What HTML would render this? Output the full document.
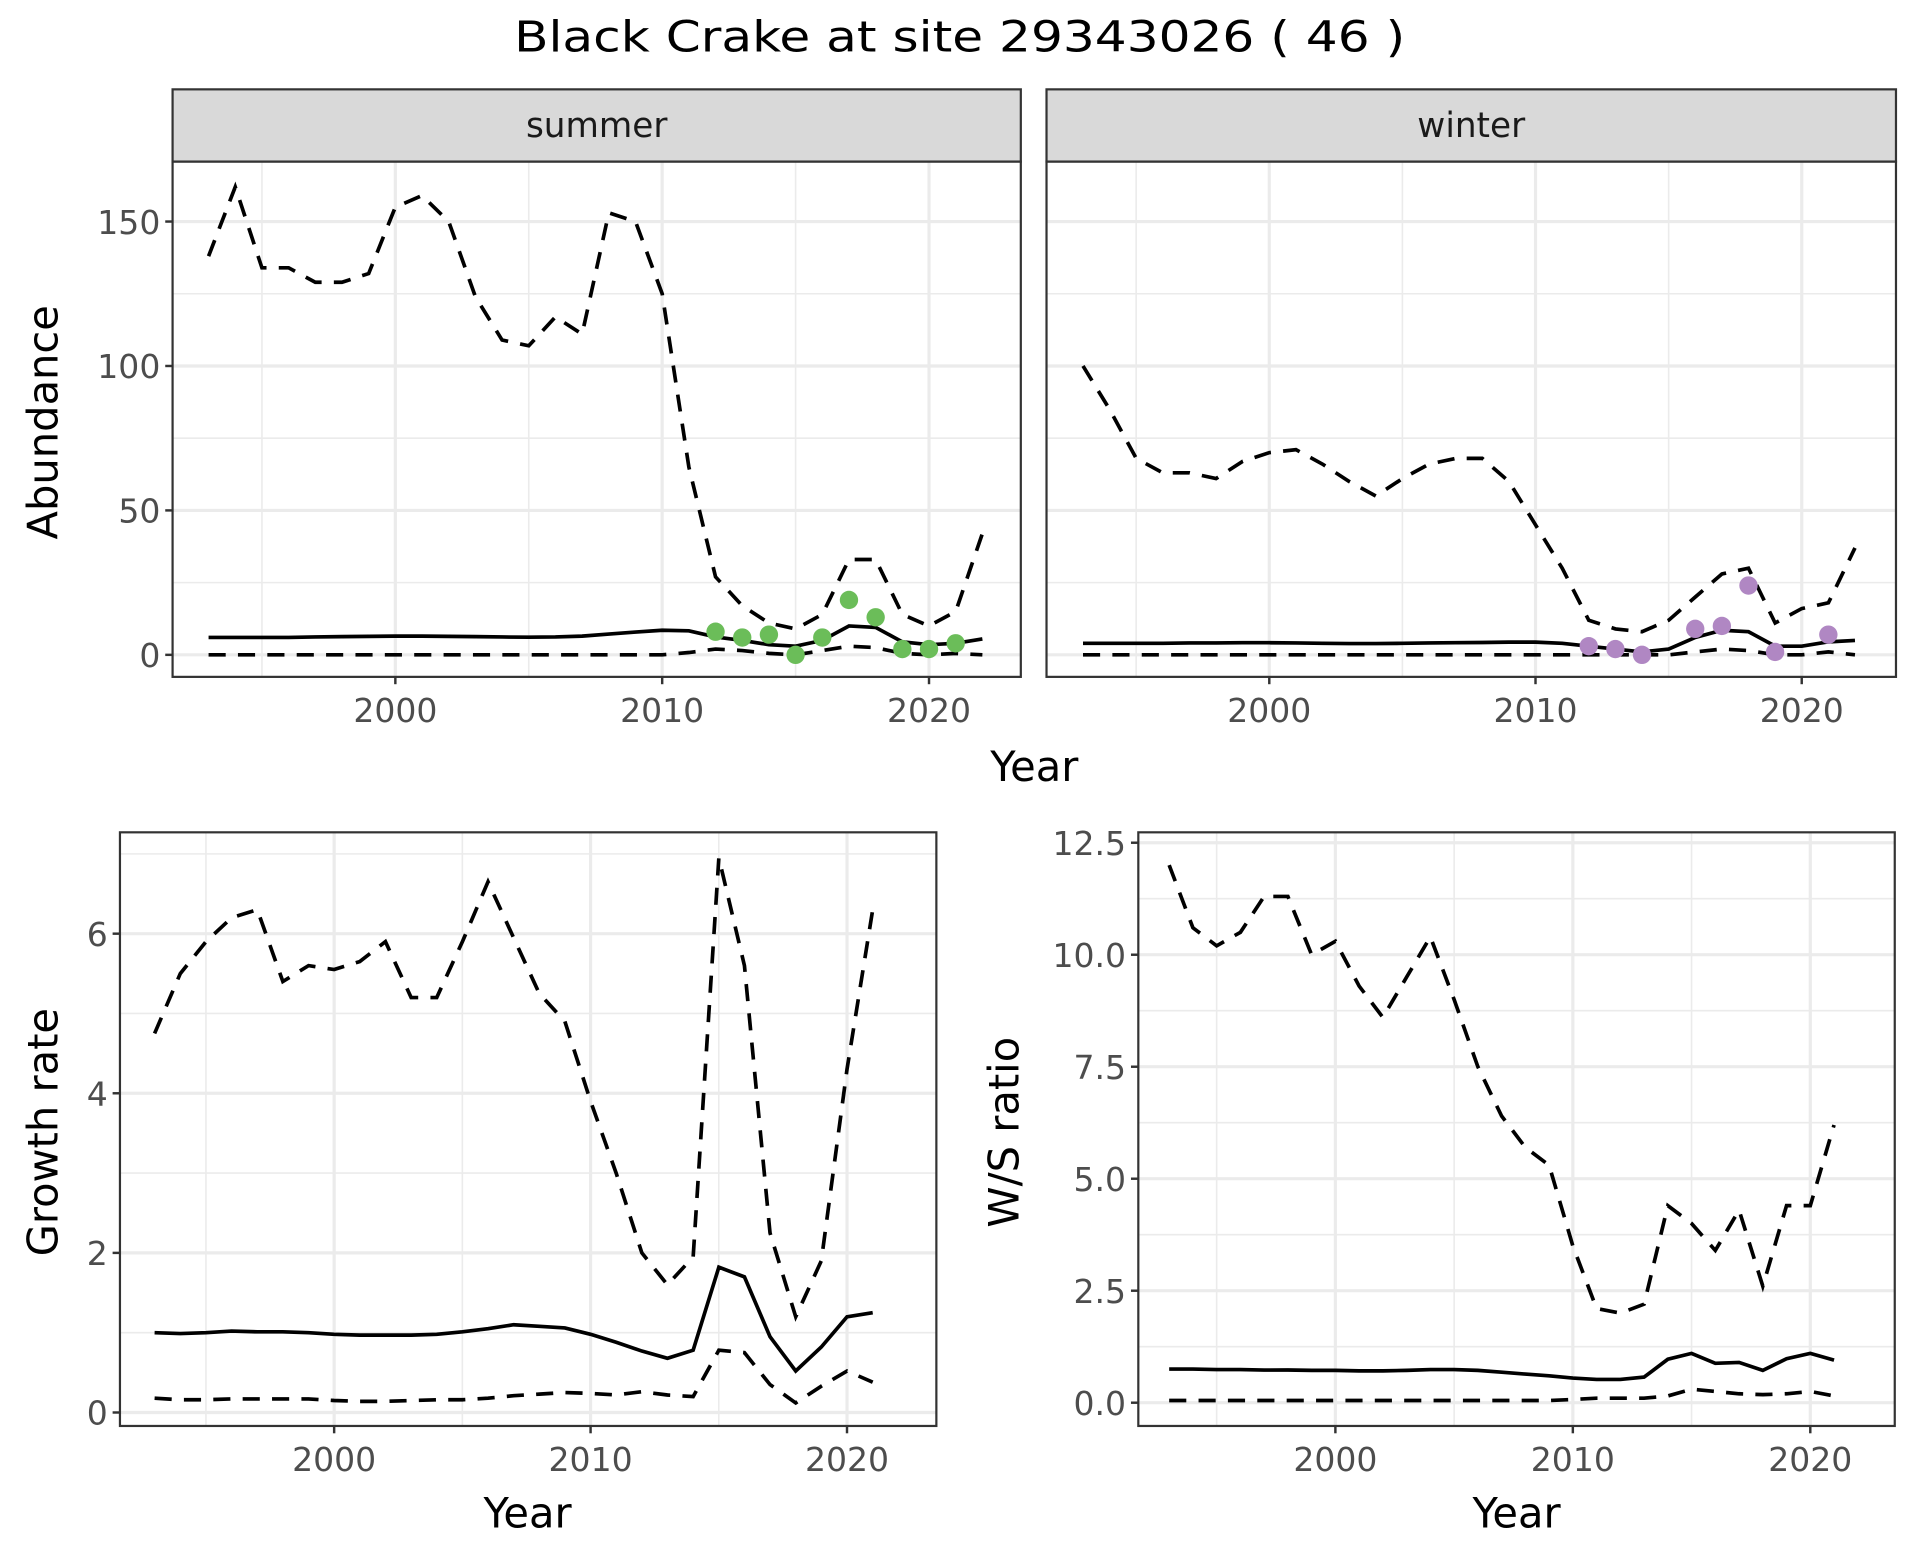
<!DOCTYPE html>
<html><head><meta charset="utf-8"><style>html,body{margin:0;padding:0;background:#fff}svg{display:block}text{font-family:"DejaVu Sans","Liberation Sans",sans-serif}</style></head>
<body>
<svg id="s" xmlns="http://www.w3.org/2000/svg" width="1920" height="1560" viewBox="0 0 1560 1267.5"></svg>
<script>
const S=document.getElementById('s');let h='';
h+='<rect width="1560" height="1267.5" fill="#fff"/><g transform="scale(0.9945)">';
h+='<text x="784" y="42" font-size="35" text-anchor="middle" textLength="728" lengthAdjust="spacingAndGlyphs">Black Crake at site 29343026 ( 46 )</text>';
function pl(xs,ys,X,Y,dash){let p=xs.map((x,i)=>X(x).toFixed(1)+','+Y(ys[i]).toFixed(1)).join(' ');
return `<polyline points="${p}" fill="none" stroke="#000" stroke-width="3" ${dash?'stroke-dasharray="14,10"':''}/>`;}
function panel(o){const {x0,x1,y0,y1,xa,xb,ya,yb,yt,ymin,xt,xmin}=o;
const X=v=>xa+(v-2000)*xb, Y=v=>ya-v*yb;
let g=`<rect x="${x0}" y="${y0}" width="${x1-x0}" height="${y1-y0}" fill="#fff"/>`;
g+=`<clipPath id="c${x0}${y0}"><rect x="${x0}" y="${y0}" width="${x1-x0}" height="${y1-y0}"/></clipPath>`;
ymin.forEach(v=>g+=`<line x1="${x0}" x2="${x1}" y1="${Y(v)}" y2="${Y(v)}" stroke="#ebebeb" stroke-width="1.3"/>`);
xmin.forEach(v=>g+=`<line y1="${y0}" y2="${y1}" x1="${X(v)}" x2="${X(v)}" stroke="#ebebeb" stroke-width="1.3"/>`);
yt.forEach(v=>g+=`<line x1="${x0}" x2="${x1}" y1="${Y(v)}" y2="${Y(v)}" stroke="#ebebeb" stroke-width="2.6"/>`);
xt.forEach(v=>g+=`<line y1="${y0}" y2="${y1}" x1="${X(v)}" x2="${X(v)}" stroke="#ebebeb" stroke-width="2.6"/>`);
g+=`<g clip-path="url(#c${x0}${y0})">`;
o.series.forEach(s=>g+=pl(s.x,s.y,X,Y,s.d));
(o.pts||[]).forEach(p=>g+=`<circle cx="${X(p[0])}" cy="${Y(p[1])}" r="7.5" fill="${o.pc}"/>`);
g+='</g>';
g+=`<rect x="${x0}" y="${y0}" width="${x1-x0}" height="${y1-y0}" fill="none" stroke="#333" stroke-width="1.8"/>`;
if(o.showY!==false) yt.forEach(v=>{g+=`<line x1="${x0-6}" x2="${x0}" y1="${Y(v)}" y2="${Y(v)}" stroke="#333" stroke-width="2"/><text x="${x0-10}" y="${Y(v)+10}" font-size="27" fill="#4d4d4d" text-anchor="end">${o.fmt?v.toFixed(1):v}</text>`});
xt.forEach(v=>g+=`<line y1="${y1}" y2="${y1+6}" x1="${X(v)}" x2="${X(v)}" stroke="#333" stroke-width="2"/><text x="${X(v)}" y="${y1+37}" font-size="27" fill="#4d4d4d" text-anchor="middle">${v}</text>`);
if(o.strip){g+=`<rect x="${x0}" y="73" width="${x1-x0}" height="${y0-73}" fill="#d9d9d9" stroke="#333" stroke-width="1.8"/><text x="${(x0+x1)/2}" y="112" font-size="28" fill="#1a1a1a" text-anchor="middle">${o.strip}</text>`;}
return g;}
const yrs=(a,b)=>{let r=[];for(let i=a;i<=b;i++)r.push(i);return r};
const Y1=yrs(1993,2022),Y2=yrs(1993,2021);
const sU=[138,162,134,134,129,129,132,155,159,150,124,109,107,117,111,153,150,125,65,27,17,11,9,14,33,33,14,10,15,42];
const sM=[6,6,6,6,6.2,6.3,6.4,6.5,6.5,6.4,6.3,6.2,6.1,6.2,6.5,7.2,7.9,8.5,8.3,6.2,5,3.5,3,5,10,9.5,4.5,3.5,4,5.5];
const sL=[0,0,0,0,0,0,0,0,0,0,0,0,0,0,0,0,0,0,0.8,2,1.5,0.5,0,1.5,3,2.5,0.5,0,0.5,0];
const wU=[100,85,68,63,63,61,67,70,71,66,60,55,61,66,68,68,60,45,30,12,9,8,12,20,28,30,11,16,18,37];
const wM=[4,4,4,4,4.1,4.1,4.2,4.2,4.1,4,3.9,3.9,4,4.1,4.2,4.3,4.4,4.4,4,3,2,1,2,6,8.5,8,3,3,4.5,5];
const wL=[0,0,0,0,0,0,0,0,0,0,0,0,0,0,0,0,0,0,0,0,0,0,0,1,2,1.5,0,0,1,0];
h+=panel({x0:141,x1:834,y0:132,y1:553,xa:323,xb:21.8,ya:535,yb:2.36,yt:[0,50,100,150],ymin:[25,75,125],xt:[2000,2010,2020],xmin:[1995,2005,2015],strip:'summer',pc:'#6bbd59',
series:[{x:Y1,y:sU,d:1},{x:Y1,y:sM},{x:Y1,y:sL,d:1}],pts:[[2012,8],[2013,6],[2014,7],[2015,0],[2016,6],[2017,19],[2018,13],[2019,2],[2020,2],[2021,4]]});
h+=panel({x0:855,x1:1549,y0:132,y1:553,xa:1037,xb:21.75,ya:535,yb:2.36,yt:[0,50,100,150],ymin:[25,75,125],xt:[2000,2010,2020],xmin:[1995,2005,2015],strip:'winter',pc:'#b087c3',showY:false,
series:[{x:Y1,y:wU,d:1},{x:Y1,y:wM},{x:Y1,y:wL,d:1}],pts:[[2012,3],[2013,2],[2014,0],[2016,9],[2017,10],[2018,24],[2019,1],[2021,7]]});
const gU=[4.75,5.5,5.9,6.2,6.3,5.4,5.6,5.55,5.65,5.9,5.2,5.2,5.9,6.65,5.95,5.25,4.9,3.9,3.0,2.0,1.6,1.95,6.95,5.6,2.25,1.2,1.9,4.3,6.3];
const gM=[1.0,0.99,1.0,1.02,1.01,1.01,1.0,0.98,0.97,0.97,0.97,0.98,1.01,1.05,1.1,1.08,1.06,0.98,0.88,0.77,0.68,0.78,1.82,1.7,0.95,0.52,0.82,1.2,1.25];
const gL=[0.18,0.16,0.16,0.17,0.17,0.17,0.17,0.15,0.14,0.14,0.15,0.16,0.16,0.18,0.21,0.23,0.25,0.24,0.22,0.26,0.22,0.2,0.78,0.75,0.35,0.12,0.33,0.52,0.38];
h+=panel({x0:98,x1:765,y0:680,y1:1165,xa:273,xb:20.95,ya:1154,yb:65.2,yt:[0,2,4,6],ymin:[1,3,5,7],xt:[2000,2010,2020],xmin:[1995,2005,2015],
series:[{x:Y2,y:gU,d:1},{x:Y2,y:gM},{x:Y2,y:gL,d:1}]});
const rU=[12.0,10.6,10.2,10.5,11.3,11.3,10.0,10.3,9.3,8.6,9.5,10.4,9.0,7.5,6.4,5.7,5.3,3.5,2.1,2.0,2.2,4.4,4.0,3.4,4.3,2.6,4.4,4.4,6.2];
const rM=[0.75,0.75,0.74,0.74,0.73,0.73,0.72,0.72,0.71,0.71,0.72,0.74,0.74,0.72,0.68,0.64,0.6,0.55,0.52,0.52,0.57,0.97,1.1,0.88,0.9,0.72,0.98,1.1,0.95];
const rL=[0.05,0.05,0.05,0.05,0.05,0.05,0.05,0.05,0.05,0.05,0.05,0.05,0.05,0.05,0.05,0.05,0.05,0.07,0.1,0.1,0.1,0.15,0.3,0.25,0.2,0.18,0.2,0.25,0.15];
h+=panel({x0:930,x1:1548,y0:680,y1:1165,xa:1091,xb:19.4,ya:1146,yb:36.6,yt:[0,2.5,5,7.5,10,12.5],ymin:[1.25,3.75,6.25,8.75,11.25],xt:[2000,2010,2020],xmin:[1995,2005,2015],fmt:1,
series:[{x:Y2,y:rU,d:1},{x:Y2,y:rM},{x:Y2,y:rL,d:1}]});
h+='<text transform="translate(47,345) rotate(-90)" font-size="34" text-anchor="middle">Abundance</text>';
h+='<text x="845" y="638" font-size="34" text-anchor="middle">Year</text>';
h+='<text transform="translate(47,925) rotate(-90)" font-size="34" text-anchor="middle">Growth rate</text>';
h+='<text transform="translate(832,925) rotate(-90)" font-size="34" text-anchor="middle">W/S ratio</text>';
h+='<text x="431" y="1248" font-size="34" text-anchor="middle">Year</text>';
h+='<text x="1239" y="1248" font-size="34" text-anchor="middle">Year</text>';
h+='</g>';
S.innerHTML=h;
</script>
</body></html>
